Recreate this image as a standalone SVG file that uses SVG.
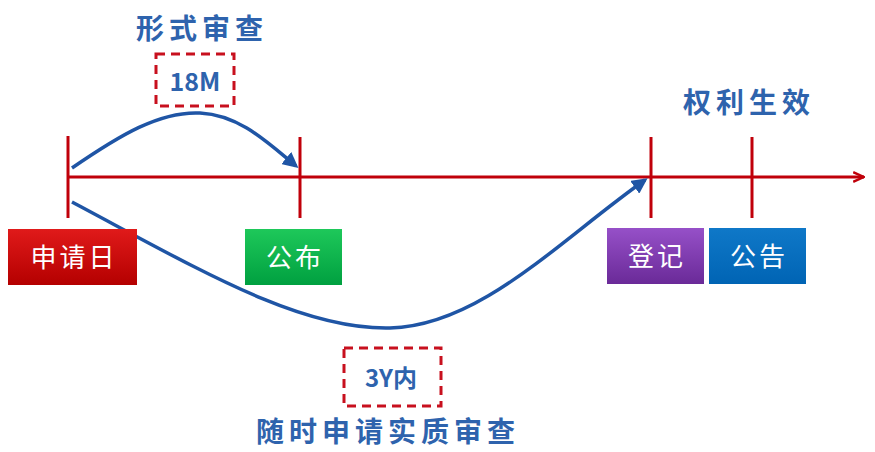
<svg xmlns="http://www.w3.org/2000/svg" width="875" height="452" viewBox="0 0 875 452">
<style>
.tick{stroke:#c0000a;stroke-width:3;fill:none}
.lbl{font-family:"Noto Sans CJK SC",sans-serif;font-weight:bold;fill:#2e63ad;text-anchor:middle}
.big{font-size:28px;letter-spacing:5px}
.box{fill:#fff;stroke:#c8101e;stroke-width:3;stroke-dasharray:9,6}
.btxt{font-family:"Noto Sans CJK SC",sans-serif;font-size:26px;letter-spacing:3px;fill:#fff;text-anchor:middle}
.curve{stroke:#1f55a5;stroke-width:3.5;fill:none}
</style>
<defs>
<marker id="ah" viewBox="0 0 10 10" refX="8" refY="5" markerWidth="4.5" markerHeight="4.5" orient="auto"><path d="M0,0 L10,5 L0,10 z" fill="#1f55a5"/></marker>
<marker id="rh" viewBox="0 0 10 10" refX="9" refY="5" markerWidth="4" markerHeight="4" orient="auto"><path d="M0,1 L9,5 L0,9" fill="none" stroke="#c0000a" stroke-width="2"/></marker>
<linearGradient id="gr" x1="0" y1="0" x2="0" y2="1"><stop offset="0" stop-color="#e01a1a"/><stop offset="1" stop-color="#b40000"/></linearGradient>
<linearGradient id="gg" x1="0" y1="0" x2="0" y2="1"><stop offset="0" stop-color="#1ec85a"/><stop offset="1" stop-color="#00a040"/></linearGradient>
<linearGradient id="gp" x1="0" y1="0" x2="0" y2="1"><stop offset="0" stop-color="#9650c8"/><stop offset="1" stop-color="#6a2a98"/></linearGradient>
<linearGradient id="gb" x1="0" y1="0" x2="0" y2="1"><stop offset="0" stop-color="#0f78c8"/><stop offset="1" stop-color="#0064b4"/></linearGradient>
</defs>
<g id="timeline">
<line class="tick" x1="68" y1="177" x2="864" y2="177" marker-end="url(#rh)"/>
<line class="tick" x1="68" y1="136" x2="68" y2="218"/>
<line class="tick" x1="300" y1="137" x2="300" y2="218"/>
<line class="tick" x1="651" y1="137" x2="651" y2="218"/>
<line class="tick" x1="752" y1="137" x2="752" y2="218"/>
</g>
<g id="connectors">
<path class="curve" d="M72,168 C120,135 160,111 200,113 C240,115 268,143 296,166" marker-end="url(#ah)"/>
<path class="curve" d="M72,202 C200,270 300,330 390,328 C480,326 560,240 645,180" marker-end="url(#ah)"/>
</g>
<g id="node-shenqingri">
<rect x="8" y="229" width="129" height="56" fill="url(#gr)"/>
<text class="btxt" x="74" y="267">申请日</text>
</g>
<g id="node-gongbu">
<rect x="245" y="229" width="97" height="56" fill="url(#gg)"/>
<text class="btxt" x="295" y="267">公布</text>
</g>
<g id="node-dengji">
<rect x="607" y="228" width="97" height="56" fill="url(#gp)"/>
<text class="btxt" x="657" y="266">登记</text>
</g>
<g id="node-gonggao">
<rect x="709" y="228" width="97" height="56" fill="url(#gb)"/>
<text class="btxt" x="759" y="266">公告</text>
</g>
<g id="label-xingshi">
<text class="lbl big" x="202" y="39">形式审查</text>
</g>
<g id="label-18m">
<rect class="box" x="156" y="54" width="78" height="52"/>
<text class="lbl" x="195" y="91" font-size="25" font-family="Liberation Sans">18M</text>
</g>
<g id="label-quanli">
<text class="lbl big" x="749" y="113">权利生效</text>
</g>
<g id="label-3y">
<rect class="box" x="344" y="348" width="97" height="58"/>
<text class="lbl" x="391" y="387" font-size="24">3Y内</text>
</g>
<g id="label-shishi">
<text class="lbl big" x="388" y="442">随时申请实质审查</text>
</g>
</svg>
